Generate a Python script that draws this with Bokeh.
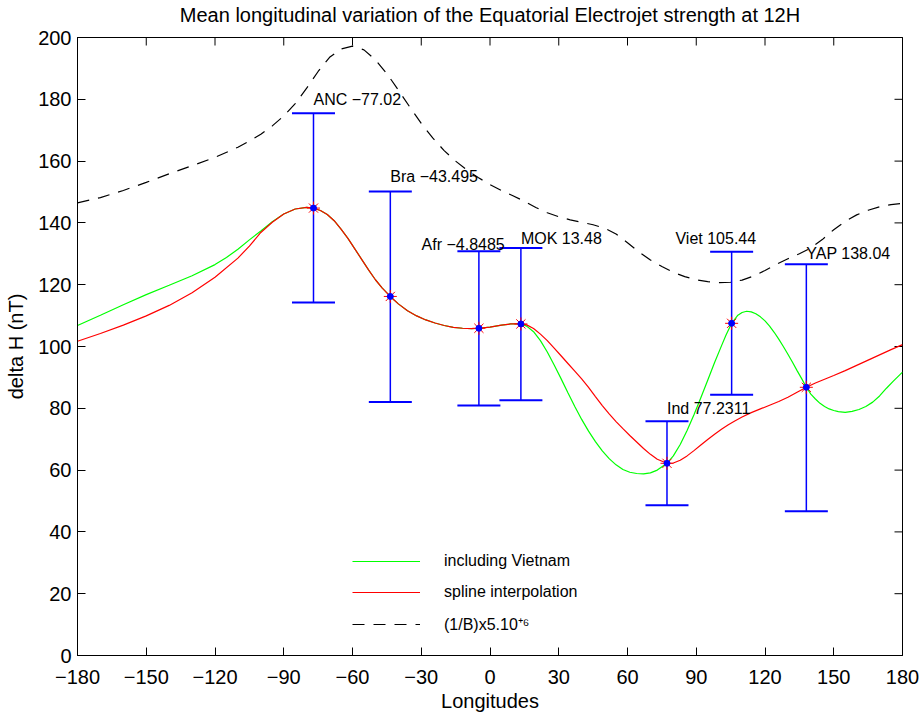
import math
from bokeh.plotting import figure
from bokeh.models import (ColumnDataSource, Whisker, TeeHead, FixedTicker, LinearAxis,
                          Legend, LegendItem, Range1d)
from bokeh.embed import file_html
from bokeh.resources import INLINE
from bokeh.core.properties import value

# ---------------- data ----------------
station_labels = ["ANC \u221277.02", "Bra \u221243.495", "Afr \u22124.8485", "MOK 13.48",
                  "Ind 77.2311", "Viet 105.44", "YAP 138.04"]
station_lon = [-77.02, -43.495, -4.8485, 13.48, 77.2311, 105.44, 138.04]
dh_mean = [144.8, 116.2, 105.9, 107.3, 62.2, 107.5, 86.8]
dh_upper = [175.5, 150.2, 130.8, 131.9, 75.8, 130.7, 126.6]
dh_lower = [114.2, 82.0, 80.9, 82.6, 48.6, 84.4, 46.7]
label_lon_shift = [0, 0, -25, 0, 0, -24.5, 0]
label_y = [180, 155, 133, 135, 80, 135, 130]

# shared part of both spline curves (ANC .. MOK)
mid_lon = [-74, -71, -68, -65, -62, -59, -56, -53, -50, -47, -43.495, -40, -36, -32, -28,
           -24, -20, -16, -12, -8, -4.8485, 0, 5, 9, 13.48]
mid_dh = [144.0, 142.7, 140.7, 138.0, 135.0, 131.6, 128.2, 124.8, 121.6, 118.9, 116.2,
          113.8, 111.6, 109.9, 108.6, 107.6, 106.8, 106.2, 105.9, 105.8, 105.9, 106.3,
          106.9, 107.3, 107.3]

incl_lon = ([-180, -170, -160, -150, -140, -130, -120, -115, -110, -105, -100, -95, -90,
             -85, -80, -77.02] + mid_lon +
            [16, 19, 22, 25, 28, 31, 34, 37, 40, 43, 46, 49, 52, 55, 58, 61, 64, 67, 70, 73,
             77.2311, 80, 83, 86, 89, 92, 95, 98, 101, 103, 105.44, 108, 110, 112, 114, 116,
             118, 120, 122, 124, 126, 128, 130, 132, 134, 136, 138.04, 140, 142, 144, 146,
             148, 150, 152, 155, 158, 161, 164, 167, 170, 173, 176, 180])
incl_dh = ([106.8, 110.1, 113.5, 116.8, 119.8, 122.9, 126.5, 128.8, 131.5, 134.5, 137.4,
            140.4, 142.9, 144.5, 145.0, 144.8] + mid_dh +
           [106.6, 104.8, 101.9, 98.2, 94.0, 89.6, 85.0, 80.6, 76.4, 72.6, 69.2, 66.2, 63.7,
            61.7, 60.2, 59.3, 58.9, 58.8, 59.1, 60.0, 62.2, 64.6, 68.3, 72.8, 77.9, 83.4,
            89.1, 94.8, 100.2, 103.7, 107.5, 110.0, 111.0, 111.4, 111.2, 110.6, 109.6, 108.3,
            106.6, 104.6, 102.4, 100.0, 97.5, 94.9, 92.2, 89.6, 86.8, 84.6, 83.0, 81.6, 80.6,
            79.8, 79.3, 78.9, 78.7, 79.0, 79.6, 80.6, 82.0, 84.0, 86.5, 88.8, 91.7])

spl_lon = ([-180, -170, -160, -150, -140, -130, -120, -110, -105, -100, -95, -90, -85, -80,
            -77.02] + mid_lon +
           [16, 19, 22, 25, 28, 31, 34, 37, 40, 43, 46, 49, 52, 55, 58, 61, 64, 67, 70, 73,
            77.2311, 80, 83, 86, 89, 92, 95, 98, 101, 104, 107, 110, 114, 118, 122, 126, 130,
            134, 138.04, 142, 146, 150, 155, 160, 165, 170, 175, 180])
spl_dh = ([101.7, 104.2, 106.9, 109.9, 113.3, 117.4, 122.4, 128.6, 132.5, 136.9, 140.2,
           142.9, 144.5, 145.0, 144.8] + mid_dh +
          [107.0, 105.8, 104.0, 101.9, 99.5, 97.0, 94.5, 92.0, 89.5, 86.8, 83.8, 80.9, 78.2,
           75.7, 73.4, 71.2, 69.1, 67.0, 65.1, 63.5, 62.2, 62.3, 63.2, 64.6, 66.3, 68.1, 69.9,
           71.6, 73.2, 74.7, 76.0, 77.2, 78.6, 79.8, 81.0, 82.2, 83.6, 85.2, 86.8, 88.2, 89.4,
           90.6, 92.2, 93.9, 95.6, 97.3, 99.0, 100.6])

invb_lon = [-180, -170, -160, -150, -140, -130, -120, -110, -105, -100, -95, -90, -85, -80,
            -75, -70, -65, -60, -55, -50, -45, -40, -35, -30, -25, -20, -15, -10, -5, 0, 5,
            10, 15, 20, 25, 30, 35, 40, 45, 50, 55, 60, 65, 70, 75, 80, 85, 90, 95, 100, 105,
            110, 115, 120, 125, 130, 135, 140, 145, 150, 155, 160, 165, 170, 175, 180]
invb_val = [146.5, 148.2, 150.5, 153.1, 155.9, 158.5, 161.2, 164.5, 166.5, 168.7, 171.4,
            174.6, 178.6, 183.6, 189.0, 193.6, 196.3, 197.2, 196.0, 192.8, 188.3, 183.0,
            177.5, 172.2, 167.5, 163.4, 160.0, 157.1, 154.6, 152.4, 150.5, 148.8, 147.0,
            145.0, 143.3, 142.0, 141.0, 140.2, 139.4, 138.3, 136.4, 133.6, 130.6, 128.0,
            125.9, 124.0, 122.6, 121.6, 121.0, 120.7, 120.8, 121.5, 122.8, 124.6, 126.6,
            128.4, 130.0, 131.9, 134.6, 137.8, 140.5, 142.6, 144.1, 145.2, 145.9, 146.3]

x_ticks = [-180, -150, -120, -90, -60, -30, 0, 30, 60, 90, 120, 150, 180]
x_tick_labels = ["\u2212180", "\u2212150", "\u2212120", "\u221290", "\u221260", "\u221230",
                 "0", "30", "60", "90", "120", "150", "180"]
y_ticks = [0, 20, 40, 60, 80, 100, 120, 140, 160, 180, 200]
x_lim = (-180, 180)
y_lim = (0, 200)

title_text = "Mean longitudinal variation of the Equatorial Electrojet strength at 12H"
x_label = "Longitudes"
y_label = "delta H (nT)"
legend_labels = ["including Vietnam", "spline interpolation", "(1/B)x5.10\u207a\u2076"]

# ---------------- figure ----------------
FONT = "Liberation Sans"
p = figure(width=922, height=717, x_range=Range1d(*x_lim), y_range=Range1d(*y_lim),
           title=None, output_backend="svg", toolbar_location=None,
           min_border_left=77, min_border_right=20, min_border_top=37, min_border_bottom=62)
p.grid.visible = False
p.outline_line_color = "black"
p.outline_line_width = 1
p.background_fill_color = "white"

def style_axis(ax):
    ax.axis_line_color = "black"
    ax.major_tick_in = 8
    ax.major_tick_out = 0
    ax.minor_tick_line_color = None
    ax.major_tick_line_color = "black"
    ax.major_label_text_font = FONT
    ax.major_label_text_color = "black"
    ax.major_label_text_font_size = "20px"
    ax.axis_label_text_font = FONT
    ax.axis_label_text_font_style = "normal"
    ax.axis_label_text_font_size = "20px"
    ax.axis_label_text_color = "black"

xa = p.xaxis[0]
xa.ticker = FixedTicker(ticks=x_ticks)
xa.major_label_overrides = {t: s for t, s in zip(x_ticks, x_tick_labels)}
xa.axis_label = x_label
style_axis(xa)
xa.major_label_standoff = 14
xa.axis_label_standoff = 3

ya = p.yaxis[0]
ya.ticker = FixedTicker(ticks=y_ticks)
ya.axis_label = y_label
style_axis(ya)
ya.major_label_standoff = 6
ya.axis_label_standoff = 8

# title carried by a tick-less axis above the frame
top = LinearAxis(ticker=FixedTicker(ticks=[]), axis_label=title_text)
style_axis(top)
top.major_tick_in = 0
top.major_label_standoff = 0
top.axis_label_standoff = 12
p.add_layout(top, "above")

# inward ticks on the top and right frame edges (outer half clipped by the frame)
p.scatter(x_ticks, [y_lim[1]] * len(x_ticks), marker="dash", angle=math.pi / 2,
          size=16, line_color="black", line_width=1)
p.scatter([x_lim[1]] * len(y_ticks), y_ticks, marker="dash", size=16,
          line_color="black", line_width=1)

# curves
g = p.line(incl_lon, incl_dh, line_color="#00ff00", line_width=1.2)
r = p.line(spl_lon, spl_dh, line_color="#ff0000", line_width=1.2)
d = p.line(invb_lon, invb_val, line_color="black", line_width=1.2, line_dash="12 9")

# error bars
src = ColumnDataSource(dict(lon=station_lon, mean=dh_mean, upper=dh_upper, lower=dh_lower,
                            lx=[l + s for l, s in zip(station_lon, label_lon_shift)],
                            ly=label_y, label=station_labels))
wh = Whisker(source=src, base="lon", upper="upper", lower="lower", dimension="height",
             line_color="blue", line_width=1.5,
             upper_head=TeeHead(size=43, line_color="blue", line_width=2),
             lower_head=TeeHead(size=43, line_color="blue", line_width=2))
p.add_layout(wh)

p.scatter("lon", "mean", source=src, marker="asterisk", size=13, line_color="red", line_width=1)
p.scatter("lon", "mean", source=src, marker="circle", size=6, fill_color="blue", line_color="blue")

p.text("lx", "ly", text="label", source=src, text_font=value(FONT), text_font_size="16px",
       text_baseline="middle", text_align="left", text_color="black")

legend = Legend(items=[LegendItem(label=legend_labels[0], renderers=[g]),
                       LegendItem(label=legend_labels[1], renderers=[r]),
                       LegendItem(label=legend_labels[2], renderers=[d])],
                location=(275, 20), padding=0, margin=0, spacing=11,
                glyph_width=68, glyph_height=20, label_height=20, label_standoff=24,
                label_text_font=FONT, label_text_font_size="16px", label_text_color="black",
                border_line_alpha=0, background_fill_alpha=0)
p.add_layout(legend)

open("out.html", "w").write(file_html(p, INLINE))
